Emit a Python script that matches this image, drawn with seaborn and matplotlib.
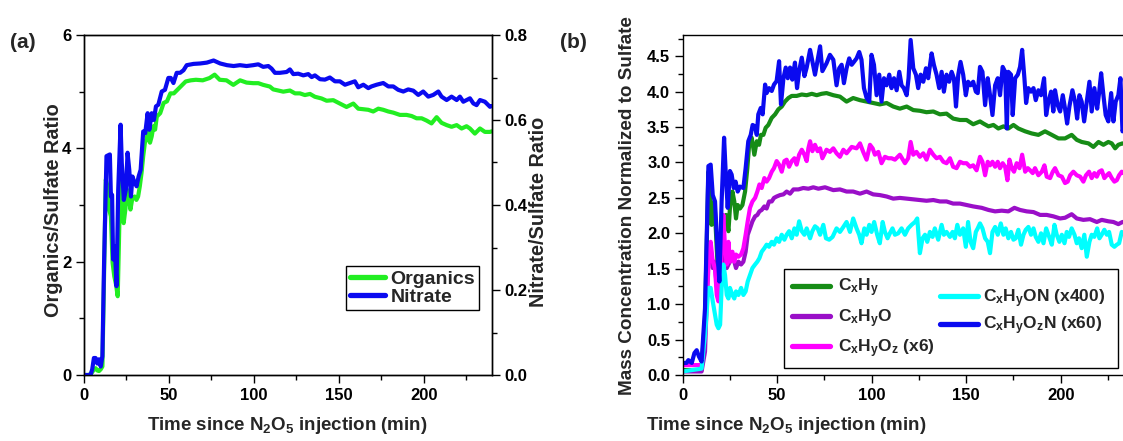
import matplotlib
matplotlib.use("Agg")
import matplotlib.pyplot as plt
from matplotlib.ticker import MultipleLocator
import seaborn as sns

# ---- panel (a): ratios to sulfate ----
t_org = [0, 3, 4, 5, 6, 7, 8, 9, 10, 11,
         12, 13, 14, 15, 16, 17, 18, 19, 20, 20.7,
         21.5, 22.5, 23.5, 24.5, 25.5, 26.5, 27.5, 28.5, 30, 31,
         32, 33, 34, 35, 36, 37, 38, 39, 40, 41,
         42, 43, 45, 47, 49, 51, 53, 55, 57, 60,
         63, 66, 70, 74, 77, 80, 84, 88, 92, 95.8,
         99.7, 102.7, 105.6, 109.5, 111.5, 114.5, 117.4, 121.3, 124.3, 127.2,
         130.1, 133.1, 136.0, 139.9, 142.9, 146.8, 150.7, 154.6, 158.6, 161.5,
         164.5, 167.4, 170.3, 173.3, 176.2, 179.2, 182.1, 186.0, 189.9, 192.9,
         195.8, 198.8, 201.7, 204.6, 207.6, 210.5, 213.5, 216.4, 219.4, 222.3,
         225.2, 227.2, 230.1, 233.1, 236.0, 239.0, 240]
organics = [0, 0, 0.02, 0.05, 0.1, 0.12, 0.08, 0.07, 0.1, 0.15,
            1.8, 3.45, 3.33, 2.92, 2.8, 1.98, 1.74, 1.6, 1.39, 2.3,
            3.45, 3.04, 2.68, 2.92, 3.27, 3.15, 2.92, 3.1, 3.15, 3.09,
            3.15, 3.33, 3.56, 3.86, 4.1, 4.16, 4.33, 4.1, 4.21, 4.39,
            4.33, 4.56, 4.62, 4.8, 4.83, 4.97, 4.97, 5.03, 5.09, 5.18,
            5.2, 5.21, 5.2, 5.24, 5.3, 5.21, 5.2, 5.12, 5.2, 5.16,
            5.15, 5.15, 5.12, 5.09, 5.04, 5.02, 5.0, 5.02, 4.97, 4.97,
            4.94, 4.96, 4.91, 4.88, 4.84, 4.85, 4.79, 4.73, 4.79, 4.70,
            4.69, 4.68, 4.65, 4.70, 4.68, 4.65, 4.63, 4.59, 4.59, 4.57,
            4.53, 4.53, 4.49, 4.44, 4.55, 4.45, 4.41, 4.38, 4.41, 4.35,
            4.39, 4.35, 4.26, 4.35, 4.29, 4.29, 4.3]

t_nit = [0, 4, 5, 6, 7, 8, 9, 10, 11, 12,
         13.4, 15.4, 16, 16.7, 17.3, 18.3, 19.3, 20.3, 21.7, 22.4,
         23.6, 24.8, 25.8, 26.8, 27.8, 28.7, 29.7, 31.1, 32.3, 33.5,
         35, 36.2, 37.6, 38.6, 40, 41.3, 42.5, 43.9, 45.9, 47.8,
         49.8, 51.2, 52.8, 54.7, 56.7, 58.7, 60.6, 64.6, 68.5, 72.4,
         76.4, 80.3, 84.3, 88.2, 91.9, 95.8, 99.7, 102.7, 105.6, 108.6,
         110.5, 112.5, 115.4, 119.4, 121.3, 123.3, 126.2, 129.2, 132.1, 134.1,
         136.0, 139.0, 141.9, 144.8, 147.8, 150.7, 153.7, 156.6, 159.5, 161.5,
         164.5, 167.4, 169.3, 172.3, 176.2, 179.2, 182.1, 185.0, 188.0, 190.9,
         193.9, 196.8, 199.7, 202.7, 205.6, 208.6, 210.5, 213.5, 216.4, 219.4,
         221.3, 223.3, 227.2, 229.2, 231.1, 233.1, 236.0, 239.0, 240]
nitrate = [0, 0, 0.013, 0.04, 0.04, 0.027, 0.037, 0.02, 0.044, 0.267,
           0.515, 0.519, 0.42, 0.424, 0.272, 0.303, 0.209, 0.436, 0.589, 0.499,
           0.412, 0.436, 0.523, 0.483, 0.42, 0.467, 0.455, 0.444, 0.467, 0.483,
           0.573, 0.569, 0.616, 0.577, 0.616, 0.6, 0.632, 0.636, 0.667, 0.671,
           0.699, 0.699, 0.687, 0.711, 0.711, 0.717, 0.729, 0.732, 0.733, 0.735,
           0.74, 0.733, 0.729, 0.727, 0.729, 0.727, 0.729, 0.731, 0.725, 0.727,
           0.721, 0.711, 0.711, 0.713, 0.719, 0.708, 0.709, 0.705, 0.708, 0.701,
           0.705, 0.696, 0.695, 0.700, 0.691, 0.691, 0.683, 0.687, 0.691, 0.677,
           0.683, 0.675, 0.679, 0.683, 0.687, 0.679, 0.679, 0.671, 0.667, 0.672,
           0.669, 0.659, 0.667, 0.655, 0.659, 0.667, 0.655, 0.647, 0.655, 0.647,
           0.655, 0.643, 0.651, 0.639, 0.635, 0.647, 0.643, 0.631, 0.633]

# ---- panel (b): families normalized to sulfate ----
t_cxhy = [0, 5, 10, 11.8, 13.6, 14.5, 15.3, 16.8, 18, 18.9,
          19.8, 20.6, 21.9, 22.9, 24.2, 25, 26.3, 27.3, 28.2, 29.1,
          30.3, 31.6, 33, 34.2, 35.3, 36.5, 37.9, 39.2, 40.4, 41.4,
          42.7, 43.9, 45.3, 47.1, 48.9, 50.6, 52.4, 54.1, 55.9, 57.7,
          60.3, 63, 65.6, 68.3, 70.9, 73.5, 76.1, 79.7, 83.2, 86.7,
          90.2, 93.8, 97.3, 100.8, 104.3, 107.9, 111.4, 114.9, 118.5, 122,
          125.5, 129, 132.6, 136.1, 139.6, 143.1, 146.7, 150.2, 153.7, 157.3,
          159.1, 161.8, 164.4, 167, 169.7, 172.3, 175, 177.6, 181.2, 184.7,
          188.2, 191.7, 195.3, 198.8, 202.3, 205.8, 208.5, 211.1, 214.7, 217.3,
          220, 222.6, 225.2, 227, 228.8, 230.5, 232.7, 236]
cxhy = [0.07, 0.07, 0.07, 0.8, 2.87, 2.54, 2.12, 2.45, 1.79, 1.32,
        1.51, 1.79, 2.21, 2.26, 2.03, 2.36, 2.59, 2.45, 2.21, 2.40,
        2.35, 2.40, 2.59, 2.92, 3.30, 3.35, 3.11, 3.30, 3.25, 3.39,
        3.39, 3.49, 3.53, 3.63, 3.68, 3.75, 3.79, 3.86, 3.91, 3.94,
        3.94, 3.96, 3.95, 3.97, 3.95, 3.97, 3.98, 3.95, 3.93, 3.86,
        3.91, 3.88, 3.86, 3.84, 3.82, 3.84, 3.79, 3.76, 3.79, 3.74,
        3.73, 3.71, 3.72, 3.68, 3.69, 3.62, 3.60, 3.60, 3.54, 3.58,
        3.55, 3.51, 3.53, 3.48, 3.51, 3.48, 3.53, 3.48, 3.44, 3.41,
        3.39, 3.44, 3.39, 3.34, 3.34, 3.39, 3.32, 3.29, 3.27, 3.22,
        3.29, 3.25, 3.29, 3.27, 3.20, 3.25, 3.27, 3.25]

t_cxhyo = [0, 5, 10, 11.8, 13.6, 14.8, 15.9, 16.8, 18, 18.9,
           19.8, 20.6, 21.5, 22.4, 23.3, 24.2, 25, 26.3, 27.3, 28.2,
           29.5, 30.9, 32.1, 33.3, 34.4, 35.6, 36.9, 38.3, 39.5, 40.6,
           41.8, 43.2, 44.4, 45.7, 47.1, 48.3, 49.7, 51.5, 53.3, 55,
           56.8, 58.6, 61.2, 63.8, 66.5, 69.1, 71.8, 75.3, 79.7, 83.2,
           86.7, 90.2, 93.8, 97.3, 100.8, 104.3, 107.9, 111.4, 114.9, 118.5,
           122, 125.5, 129, 132.6, 136.1, 139.6, 143.1, 146.7, 150.2, 153.7,
           158.2, 161.8, 165.3, 168.8, 172.3, 175.5, 178.5, 182, 185.6, 189.1,
           192.6, 196.1, 199.7, 202.3, 205.8, 208.5, 212, 215.5, 219.1, 221.7,
           225.2, 227.9, 230.5, 232.7, 236]
cxhyo = [0.05, 0.05, 0.05, 0.33, 1.70, 1.79, 1.51, 1.60, 1.27, 1.13,
         1.32, 1.60, 1.79, 1.56, 1.51, 1.56, 1.60, 1.69, 1.60, 1.51,
         1.60, 1.56, 1.60, 1.74, 1.98, 2.07, 2.17, 2.24, 2.26, 2.31,
         2.33, 2.38, 2.35, 2.45, 2.45, 2.50, 2.52, 2.54, 2.55, 2.59,
         2.56, 2.62, 2.62, 2.64, 2.63, 2.65, 2.63, 2.65, 2.61, 2.62,
         2.59, 2.59, 2.56, 2.59, 2.55, 2.54, 2.52, 2.49, 2.50, 2.49,
         2.48, 2.47, 2.46, 2.47, 2.45, 2.45, 2.42, 2.42, 2.40, 2.38,
         2.36, 2.33, 2.31, 2.32, 2.31, 2.36, 2.33, 2.31, 2.30, 2.26,
         2.26, 2.24, 2.21, 2.22, 2.27, 2.21, 2.19, 2.20, 2.16, 2.19,
         2.17, 2.16, 2.13, 2.16, 2.16]

t_cxhyoz = [0, 5, 10, 11.8, 13.6, 14.8, 15.9, 17.1, 18, 18.9,
            19.8, 20.6, 21.5, 22.4, 23.3, 24.2, 25, 26.3, 27.3, 28.2,
            29.5, 30.9, 32.1, 33.3, 34.4, 35.6, 36.9, 38.3, 39.5, 40.6,
            41.8, 43.2, 44.4, 45.7, 47.1, 48.3, 49.7, 51, 52.4, 53.8,
            55, 56.3, 57.7, 59.1, 60.3, 61.6, 63, 64.4, 65.6, 66.5,
            67.4, 68.6, 70, 71.4, 72.7, 73.9, 76.1, 77.9, 79.7, 81.4,
            83.2, 85, 86.7, 89.4, 92, 93.8, 95.5, 97.3, 99.1, 100.5,
            101.7, 103.5, 105.2, 107, 108.8, 110.5, 112.3, 114.9, 117.6, 119.3,
            120.6, 122, 123.7, 125.5, 127.3, 129, 130.8, 132.6, 134.3, 136.1,
            137.9, 139.6, 141.4, 143.1, 144.9, 146.7, 148.4, 150.2, 152, 153.7,
            155.5, 157.3, 158.6, 160, 161.4, 162.6, 163.9, 165.3, 166.7, 167.9,
            169.3, 170.6, 171.8, 172.9, 174.1, 175.3, 176.7, 178.2, 179.6, 181.2,
            182.6, 183.8, 185.2, 186.4, 188.2, 190, 191.4, 192.6, 194.4, 195.8,
            197, 198.8, 200.6, 202.3, 203.7, 205, 206.7, 208.5, 210.3, 212,
            213.4, 215, 216.4, 217.8, 219.1, 220.3, 221.7, 223.1, 224.4, 225.6,
            227, 228.4, 229.7, 230.9, 232.3, 236]
cxhyoz = [0.14, 0.14, 0.14, 0.57, 1.51, 1.88, 1.60, 1.51, 1.13, 1.04,
          1.37, 1.74, 2.26, 1.79, 1.56, 1.88, 1.60, 1.74, 1.60, 1.70,
          1.67, 1.70, 1.79, 1.98, 2.17, 2.36, 2.45, 2.50, 2.59, 2.69,
          2.64, 2.78, 2.73, 2.78, 2.87, 2.92, 3.02, 2.97, 2.87, 3.02,
          3.04, 2.94, 3.02, 3.06, 2.97, 3.11, 3.18, 3.11, 3.02, 3.20,
          3.30, 3.16, 3.25, 3.16, 3.20, 3.06, 3.18, 3.15, 3.20, 3.13,
          3.08, 3.18, 3.13, 3.22, 3.20, 3.27, 3.15, 3.04, 3.25, 3.20,
          3.11, 3.15, 2.99, 3.08, 3.06, 3.06, 3.04, 3.11, 2.99, 3.06,
          3.29, 3.11, 3.15, 3.08, 3.13, 3.04, 3.18, 3.11, 3.06, 3.08,
          3.01, 2.99, 3.06, 2.94, 2.92, 3.01, 2.99, 2.99, 2.94, 2.96,
          2.89, 3.08, 3.01, 2.82, 3.01, 2.96, 3.01, 2.94, 3.01, 2.92,
          2.99, 2.94, 2.75, 3.04, 2.92, 2.87, 2.99, 2.92, 3.11, 2.87,
          2.92, 2.89, 2.85, 2.92, 2.82, 2.87, 2.96, 2.80, 2.78, 2.87,
          2.92, 2.82, 2.80, 2.71, 2.73, 2.82, 2.87, 2.82, 2.80, 2.73,
          2.82, 2.87, 2.78, 2.85, 2.80, 2.87, 2.89, 2.78, 2.82, 2.85,
          2.78, 2.73, 2.75, 2.82, 2.87, 2.80]

t_cxhyon = [0, 5, 10, 11.8, 13.6, 14.8, 15.9, 16.8, 18, 18.9,
            19.8, 20.6, 21.5, 22.4, 23.3, 24.2, 25, 26.3, 27.3, 28.2,
            29.5, 30.9, 32.1, 33.3, 34.4, 35.6, 36.9, 38.3, 39.5, 40.6,
            41.8, 43.2, 44.4, 45.7, 47.1, 48.3, 49.7, 51, 52.4, 53.8,
            55, 56.3, 57.7, 59.1, 60.3, 61.6, 63, 64.4, 65.6, 67.4,
            68.6, 70, 71.4, 72.7, 74.4, 75.8, 77.5, 79.3, 81.4, 83.2,
            85, 86.7, 88.5, 90.2, 92, 93.4, 94.6, 96.1, 97.3, 98.7,
            99.9, 101.3, 102.9, 104.3, 105.8, 107, 108.4, 109.6, 111, 112.3,
            114, 115.8, 117.6, 119.3, 121.1, 122.9, 124.1, 125.5, 126.9, 128.2,
            129.4, 130.8, 132.2, 133.4, 135.2, 137, 138.2, 139.6, 141.4, 142.8,
            144, 145.3, 146.7, 148.4, 149.8, 151, 152.3, 153.7, 155.1, 156.1,
            157.3, 158.6, 160, 161.4, 162.6, 163.9, 165.3, 166.7, 168.3, 169.7,
            170.9, 172.3, 173.7, 175, 176.2, 177.6, 179, 180.3, 181.5, 182.9,
            184.3, 185.6, 186.8, 188.2, 189.6, 190.9, 192.3, 193.9, 195.3, 196.7,
            197.9, 199.3, 200.6, 202, 203.2, 204.4, 205.8, 207.3, 208.5, 209.7,
            211.1, 212.5, 213.8, 215.2, 216.4, 217.8, 219.3, 220.5, 221.7, 223.1,
            224.4, 225.6, 227, 228.4, 229.7, 230.9, 232.3, 236]
cxhyon = [0.05, 0.07, 0.09, 0.57, 1.23, 1.23, 1.04, 0.90, 0.71, 0.66,
          0.71, 1.23, 1.56, 1.41, 1.13, 1.08, 1.23, 1.13, 1.08, 1.18,
          1.13, 1.23, 1.13, 1.18, 1.32, 1.41, 1.51, 1.56, 1.60, 1.65,
          1.74, 1.79, 1.84, 1.81, 1.88, 1.84, 1.93, 1.88, 1.98, 1.91,
          1.98, 2.03, 1.93, 2.07, 1.98, 2.17, 2.03, 1.98, 2.07, 1.93,
          2.03, 2.10, 2.07, 1.98, 2.12, 1.93, 1.91, 1.95, 2.07, 2.02,
          2.09, 2.16, 2.02, 2.21, 2.07, 1.98, 1.86, 2.07, 1.98, 2.12,
          2.02, 2.16, 1.98, 1.86, 2.16, 2.02, 1.93, 2.00, 2.07, 1.98,
          2.00, 2.07, 1.98, 2.07, 2.12, 2.16, 2.21, 1.72, 1.93, 1.98,
          1.88, 2.02, 1.95, 2.07, 1.91, 2.12, 1.98, 2.02, 1.95, 2.02,
          1.93, 2.12, 1.98, 2.07, 1.81, 2.16, 1.88, 1.79, 2.02, 2.07,
          2.14, 2.07, 1.93, 1.88, 1.72, 2.02, 2.09, 1.98, 2.14, 1.98,
          2.07, 1.93, 2.02, 1.91, 1.93, 2.05, 1.84, 1.98, 2.05, 2.09,
          1.98, 2.07, 1.95, 1.88, 2.00, 1.86, 2.07, 1.95, 1.84, 2.12,
          1.98, 1.88, 1.98, 1.86, 2.02, 1.95, 2.07, 1.98, 1.86, 1.93,
          1.79, 1.98, 1.67, 1.88, 1.98, 1.95, 2.07, 1.93, 1.98, 2.05,
          1.98, 2.02, 1.84, 1.81, 1.84, 1.86, 2.02, 1.95]

t_cxhyozn = [0, 2, 3, 4.8, 6.2, 7.4, 8.6, 10, 11.8, 13.6,
             14.8, 15.9, 17.1, 18.5, 19.4, 20.6, 21.9, 22.8, 23.8, 25,
             25.9, 27, 28, 29.1, 30.3, 32.1, 33.3, 34.7, 36, 37,
             38.3, 39.2, 40, 41.3, 42.3, 43.6, 44.4, 45.7, 47.1, 48.3,
             49.7, 51, 52, 53.3, 54.5, 55.6, 56.8, 58, 59.4, 60.5,
             61.6, 63, 64.4, 65.6, 67.4, 68.6, 70, 71.3, 72.7, 73.9,
             76.1, 77.9, 79.7, 81.4, 82.8, 84.1, 85.3, 86.7, 88.1, 89.4,
             90.6, 92, 93.4, 94.6, 95.9, 97.3, 98.7, 99.9, 101.2, 102.6,
             104, 105.2, 106.5, 107.9, 109.3, 110.5, 111.8, 113.2, 114.6, 115.8,
             117, 118.5, 119.5, 120.6, 122, 123.4, 124.6, 125.9, 127.3, 128.7,
             129.9, 131.7, 132.9, 134.3, 135.7, 137, 138.2, 139.6, 141, 142.3,
             143.5, 144.6, 145.8, 147, 148.4, 149.8, 151, 152.3, 153.7, 155.1,
             156.1, 157.3, 158.6, 160, 161.4, 162.6, 163.9, 165.3, 166.7, 167.9,
             169.3, 170.6, 171.5, 172.3, 173.7, 174.6, 175.9, 177.3, 178.5, 179.6,
             180.8, 181.7, 182.9, 184.3, 185.6, 186.8, 188.2, 189.6, 191.2, 192.3,
             193.5, 194.9, 196.1, 197, 198.4, 199.7, 201.1, 202.3, 203.4, 204.6,
             206.2, 207.6, 208.7, 209.9, 211.1, 212.4, 213.8, 215.2, 216.4, 217.8,
             219.3, 220.3, 221.4, 222.6, 223.8, 225.2, 226.7, 227.9, 229.1, 230.5,
             231.6, 232.7, 236]
cxhyozn = [0.17, 0.17, 0.21, 0.17, 0.31, 0.35, 0.26, 0.19, 0.94, 2.95,
           2.97, 2.54, 2.45, 1.70, 1.32, 2.45, 3.35, 2.83, 2.36, 2.88,
           2.83, 2.64, 2.73, 2.59, 2.66, 2.64, 2.92, 3.30, 3.39, 3.53,
           3.51, 3.39, 3.68, 3.77, 3.68, 4.10, 3.98, 4.05, 4.01, 4.10,
           4.15, 4.43, 3.82, 4.19, 4.34, 4.19, 4.34, 4.17, 4.41, 4.05,
           4.29, 4.48, 4.22, 4.34, 4.59, 4.43, 4.24, 4.43, 4.64, 4.29,
           4.40, 4.52, 4.45, 4.09, 4.33, 4.38, 4.12, 4.33, 4.47, 4.38,
           4.42, 4.47, 4.56, 4.45, 4.05, 3.91, 3.86, 4.52, 4.38, 3.95,
           4.24, 3.86, 4.19, 4.09, 4.24, 4.05, 4.19, 4.02, 4.28, 4.09,
           4.05, 3.95, 4.19, 4.73, 4.33, 4.24, 4.05, 4.24, 4.14, 4.33,
           4.19, 4.54, 4.38, 4.24, 4.05, 4.28, 4.00, 4.24, 4.14, 4.28,
           4.19, 3.79, 4.24, 4.42, 4.24, 3.95, 4.14, 4.09, 4.14, 4.00,
           3.98, 4.35, 4.28, 3.81, 4.19, 3.95, 3.67, 4.09, 4.19, 3.95,
           4.35, 4.28, 3.48, 4.28, 4.24, 3.67, 4.19, 4.24, 4.35, 4.59,
           4.19, 3.84, 4.05, 4.00, 4.05, 3.88, 4.02, 3.95, 4.19, 3.67,
           3.86, 4.00, 3.72, 4.02, 3.81, 3.72, 3.95, 3.76, 3.55, 3.79,
           4.02, 3.86, 3.62, 3.95, 3.86, 3.58, 3.86, 4.14, 3.72, 4.05,
           3.76, 3.98, 4.26, 3.95, 3.67, 3.58, 3.98, 3.58, 3.86, 3.95,
           4.19, 3.44, 3.70]

family_labels = ["C$_x$H$_y$", "C$_x$H$_y$O", "C$_x$H$_y$O$_z$ (x6)",
                 "C$_x$H$_y$ON (x400)", "C$_x$H$_y$O$_z$N (x60)"]
family_colors = ["#168C16", "#9A0FC8", "#FF00FF", "#00FFFF", "#0A0AF0"]

sns.set_style("ticks")
plt.rcParams.update({
    "font.family": ["Liberation Sans", "DejaVu Sans"],
    "font.weight": "bold",
    "axes.labelweight": "bold",
    "mathtext.fontset": "custom",
    "mathtext.rm": "Liberation Sans:bold",
    "mathtext.it": "Liberation Sans:bold",
    "mathtext.bf": "Liberation Sans:bold",
    "mathtext.default": "bf",
    "axes.edgecolor": "black",
    "axes.linewidth": 1.0,
    "xtick.color": "black",
    "ytick.color": "black",
})

LW = 3.0
fig = plt.figure(figsize=(11.23, 4.41), dpi=100)
W, H = 1123, 441


def style_ticks(a):
    a.tick_params(which="major", direction="out", length=6, width=1,
                  labelsize=12, pad=3)
    a.tick_params(which="minor", direction="out", length=3.5, width=1)
    a.tick_params(top=False, which="both")


# ---------- (a) ----------
ax = fig.add_axes([83.7 / W, 66 / H, 408 / W, 340 / H])
ax2 = ax.twinx()
sns.lineplot(x=t_org, y=organics, ax=ax, color="#22EE22", lw=LW,
             estimator=None, sort=False, label="Organics", legend=False)
sns.lineplot(x=t_nit, y=nitrate, ax=ax2, color="#0A0AF0", lw=LW,
             estimator=None, sort=False, label="Nitrate", legend=False)
ax.set_xlim(0, 240)
ax.set_ylim(0, 6)
ax2.set_ylim(0, 0.8)
ax.xaxis.set_major_locator(MultipleLocator(50))
ax.xaxis.set_minor_locator(MultipleLocator(25))
ax.yaxis.set_major_locator(MultipleLocator(2))
ax.yaxis.set_minor_locator(MultipleLocator(1))
ax2.yaxis.set_major_locator(MultipleLocator(0.2))
ax2.yaxis.set_minor_locator(MultipleLocator(0.1))
ax2.yaxis.set_major_formatter(plt.FormatStrFormatter("%.1f"))
style_ticks(ax)
style_ticks(ax2)
for a in (ax, ax2):
    for s in a.spines.values():
        s.set_visible(True)
        s.set_linewidth(1.0)

ax.set_xlabel("Time since N$_2$O$_5$ injection (min)", fontsize=13.5,
              fontweight="bold")
ax.set_ylabel("Organics/Sulfate Ratio", fontsize=14.3, fontweight="bold")
ax2.set_ylabel("Nitrate/Sulfate Ratio", fontsize=14.3, fontweight="bold")
ax.xaxis.label.set_va("center")
ax.yaxis.label.set_va("center")
ax2.yaxis.label.set_va("center")
ax.xaxis.set_label_coords(0.5, (375 - 425) / 340)
ax.yaxis.set_label_coords((54 - 83.7) / 408, (375 - 210) / 340)
ax2.yaxis.set_label_coords((539 - 83.7) / 408, (375 - 212) / 340)

handles = [ax.get_lines()[0], ax2.get_lines()[0]]
leg = ax2.legend(handles, ["Organics", "Nitrate"], loc="lower right",
                 bbox_to_anchor=((479 - 83.7) / 408, (375 - 310) / 340),
                 borderaxespad=0, frameon=True, fancybox=False,
                 edgecolor="black", framealpha=1, fontsize=14,
                 handlelength=1.8, handletextpad=0.3, borderpad=0.2,
                 labelspacing=0.05)
leg.get_frame().set_linewidth(1.0)
for h in leg.legend_handles:
    h.set_linewidth(3.8)

# ---------- (b) ----------
bx = fig.add_axes([682.7 / W, 66 / H, 453.6 / W, 340 / H])
series = [(t_cxhy, cxhy), (t_cxhyo, cxhyo), (t_cxhyoz, cxhyoz),
          (t_cxhyon, cxhyon), (t_cxhyozn, cxhyozn)]
for (tt, vv), lab, col in zip(series, family_labels, family_colors):
    sns.lineplot(x=tt, y=vv, ax=bx, color=col, lw=LW, estimator=None,
                 sort=False, label=lab, legend=False)
bx.set_xlim(0, 240)
bx.set_ylim(0, 4.8)
bx.xaxis.set_major_locator(MultipleLocator(50))
bx.xaxis.set_minor_locator(MultipleLocator(25))
bx.yaxis.set_major_locator(MultipleLocator(0.5))
bx.yaxis.set_minor_locator(MultipleLocator(0.25))
bx.yaxis.set_major_formatter(plt.FormatStrFormatter("%.1f"))
style_ticks(bx)
bx.tick_params(right=False, which="both")
for s in bx.spines.values():
    s.set_visible(True)
    s.set_linewidth(1.0)
bx.set_xlabel("Time since N$_2$O$_5$ injection (min)", fontsize=13.5,
              fontweight="bold")
bx.set_ylabel("Mass Concentration Normalized to Sulfate", fontsize=13.6,
              fontweight="bold")
bx.xaxis.label.set_va("center")
bx.yaxis.label.set_va("center")
bx.xaxis.set_label_coords((786 - 682.7) / 453.6, (375 - 425) / 340)
bx.yaxis.set_label_coords((628 - 682.7) / 453.6, (375 - 206) / 340)

lines = bx.get_lines()
legA = bx.legend(lines[:3], family_labels[:3], loc="upper left",
                 bbox_to_anchor=((784 - 682.7) / 453.6, 0.0,
                                 (1118 - 784) / 453.6, (375 - 269) / 340),
                 mode="expand", borderaxespad=0, frameon=True,
                 fancybox=False, edgecolor="black", framealpha=1,
                 fontsize=12.5, handlelength=2.2, handletextpad=0.45,
                 borderpad=0.45, labelspacing=0.45)
legA.get_frame().set_linewidth(1.0)
for h in legA.legend_handles:
    h.set_linewidth(3.8)
bx.add_artist(legA)
legB = bx.legend(lines[3:], family_labels[3:], loc="upper left",
                 bbox_to_anchor=((940 - 682.7) / 453.6, (375 - 287) / 340),
                 borderaxespad=0, frameon=False, fontsize=12.5,
                 handlelength=2.2, handletextpad=0.3, borderpad=0,
                 labelspacing=0.3)
legB.set_zorder(6)
for h in legB.legend_handles:
    h.set_linewidth(3.8)

fig.text(10 / W, 1 - 42 / H, "(a)", fontsize=15, fontweight="bold",
         ha="left", va="center")
fig.text(560 / W, 1 - 42 / H, "(b)", fontsize=15, fontweight="bold",
         ha="left", va="center")

fig.savefig("out.png", dpi=100)
